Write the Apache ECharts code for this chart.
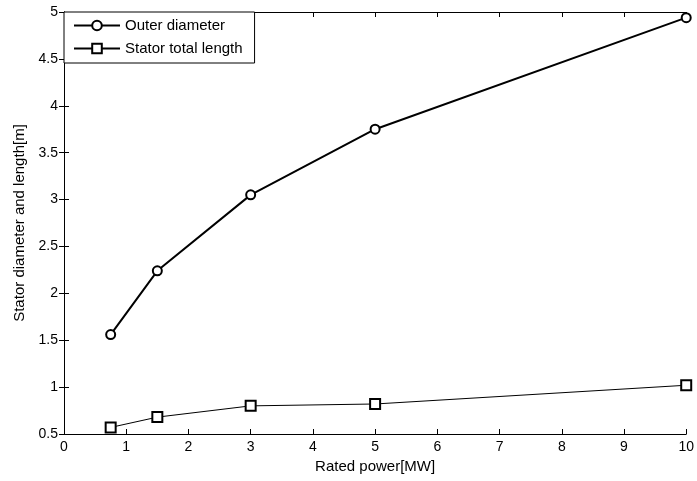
<!DOCTYPE html>
<html>
<head>
<meta charset="utf-8">
<script src="https://cdn.jsdelivr.net/npm/echarts@6/dist/echarts.min.js"></script>
<style>html,body{margin:0;padding:0;background:#fff}#c{width:697px;height:481px}</style>
</head>
<body>
<div id="c"></div>
<script>
const power = [0.75, 1.5, 3, 5, 10];
const outerDiameter = [1.56, 2.24, 3.05, 3.75, 4.94];
const statorLength = [0.57, 0.68, 0.80, 0.82, 1.02];
const seriesNames = ['Outer diameter', 'Stator total length'];
const xTitle = 'Rated power[MW]';
const yTitle = 'Stator diameter and length[m]';

const font = 'Liberation Sans, Arial, sans-serif';
const chart = echarts.init(document.getElementById('c'));
const axisCommon = {
  axisLine: {show: true, lineStyle: {color: '#000', width: 1}},
  axisTick: {show: true, inside: true, length: 5, lineStyle: {color: '#000'}},
  splitLine: {show: false}
};
chart.setOption({
  animation: false,
  backgroundColor: '#fff',
  grid: {left: 64, right: 6, top: 12, bottom: 47, containLabel: false},
  legend: {
    orient: 'vertical', left: 64, top: 12,
    backgroundColor: '#fff', borderColor: '#000', borderWidth: 1,
    padding: [6, 12, 7, 9], itemGap: 8, itemWidth: 46, itemHeight: 12,
    textStyle: {fontFamily: font, fontSize: 15, lineHeight: 14, color: '#000'},
    data: seriesNames.map(n => ({name: n}))
  },
  xAxis: [
    Object.assign({type: 'value', min: 0, max: 10, interval: 1, position: 'bottom',
      name: xTitle, nameLocation: 'middle', nameGap: 25,
      nameTextStyle: {fontFamily: font, fontSize: 15, color: '#000'},
      axisLabel: {fontFamily: font, fontSize: 14, color: '#000', margin: 6}}, axisCommon),
    Object.assign({type: 'value', min: 0, max: 10, interval: 1, position: 'top',
      axisLabel: {show: false}}, axisCommon)
  ],
  yAxis: [
    Object.assign({type: 'value', min: 0.5, max: 5, interval: 0.5, position: 'left',
      name: yTitle, nameLocation: 'middle', nameGap: 36,
      nameTextStyle: {fontFamily: font, fontSize: 15, color: '#000'},
      axisLabel: {fontFamily: font, fontSize: 14, color: '#000', margin: 6}}, axisCommon),
    Object.assign({type: 'value', min: 0.5, max: 5, interval: 0.5, position: 'right',
      axisLabel: {show: false}}, axisCommon)
  ],
  series: [
    {
      name: seriesNames[0], type: 'line', xAxisIndex: 0, yAxisIndex: 0,
      data: power.map((p, i) => [p, outerDiameter[i]]),
      symbol: 'emptyCircle', symbolSize: 9, z: 3, clip: false,
      lineStyle: {color: '#000', width: 2},
      itemStyle: {color: '#000', borderColor: '#000', borderWidth: 2}
    },
    {
      name: seriesNames[1], type: 'line', xAxisIndex: 0, yAxisIndex: 0,
      data: power.map((p, i) => [p, statorLength[i]]),
      symbol: 'emptyRect', symbolSize: 10, z: 3, clip: false,
      lineStyle: {color: '#000', width: 1},
      itemStyle: {color: '#000', borderColor: '#000', borderWidth: 1}
    }
  ]
});
</script>
</body>
</html>
